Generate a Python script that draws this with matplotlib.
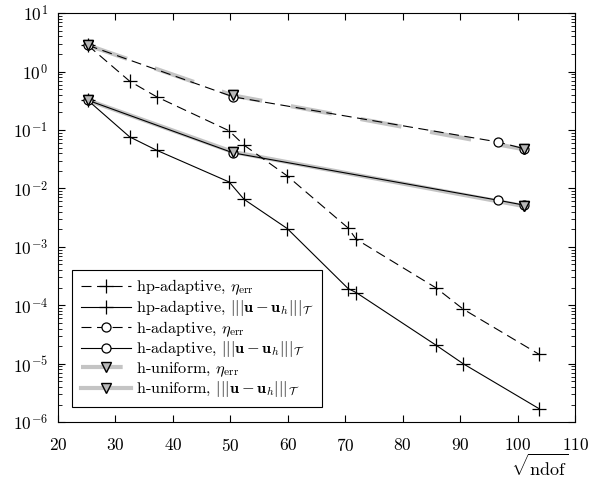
import numpy as np
import matplotlib
matplotlib.use("Agg")
import matplotlib.pyplot as plt

plt.rcParams['font.family'] = 'serif'
plt.rcParams['font.serif'] = ['cmr10', 'DejaVu Serif']
plt.rcParams['mathtext.fontset'] = 'cm'
plt.rcParams['axes.unicode_minus'] = False
plt.rcParams['axes.formatter.use_mathtext'] = True

# sqrt(ndof) and error values
hp_x = [25.2, 32.5, 37.2, 49.8, 52.4, 59.9, 70.5, 71.9, 85.8, 90.5, 103.7]
hp_eta = [2.83, 0.685, 0.37, 0.097, 0.055, 0.0164, 0.0021, 0.00135, 1.98e-4, 8.6e-5, 1.45e-5]
hp_err = [0.324, 0.0762, 0.045, 0.0129, 0.0065, 0.00206, 1.93e-4, 1.65e-4, 2.07e-5, 1.0e-5, 1.7e-6]

h_x = [25.2, 50.5, 96.5, 101.0]
h_eta = [2.83, 0.37, 0.0625, 0.0482]
h_err = [0.324, 0.0406, 0.0063, 0.0052]

hu_x = [25.2, 50.5, 101.0]
hu_eta = [2.83, 0.39, 0.047]
hu_err = [0.324, 0.042, 0.0050]

lab_eta = r'$\eta_{\mathrm{err}}$'
lab_err = r'$|||\mathbf{u}-\mathbf{u}_h|||_{\mathcal{T}}$'

fig = plt.figure(figsize=(5.9, 4.88), dpi=100)
ax = fig.add_axes([0.098, 0.135, 0.877, 0.838])

gray = '#c4c4c4'
tri = dict(marker='v', ms=7.5, mfc='#b8b8b8', mec='black', mew=1.0)

ax.plot(hp_x, hp_eta, color='black', lw=0.8, dashes=(9, 5), marker='+', ms=10, mew=0.9,
        label='hp-adaptive, ' + lab_eta, zorder=3)
ax.plot(hp_x, hp_err, color='black', lw=0.8, marker='+', ms=10, mew=0.9,
        label='hp-adaptive, ' + lab_err, zorder=3)
ax.plot(h_x, h_eta, color='black', lw=0.8, dashes=(9, 5), marker='o', ms=6.5, mfc='white', mew=0.9,
        label='h-adaptive, ' + lab_eta, zorder=3)
ax.plot(h_x, h_err, color='black', lw=0.8, marker='o', ms=6.5, mfc='white', mew=0.9,
        label='h-adaptive, ' + lab_err, zorder=3)
ax.plot(hu_x, hu_eta, color=gray, lw=3, dashes=(10, 7), label='h-uniform, ' + lab_eta, zorder=2, **tri)
ax.plot(hu_x, hu_err, color=gray, lw=3, label='h-uniform, ' + lab_err, zorder=2, **tri)
# triangles sit on top of the circles
ax.plot(hu_x, hu_eta, ls='none', zorder=4, **tri)
ax.plot(hu_x, hu_err, ls='none', zorder=4, **tri)

ax.set_yscale('log')
ax.set_xlim(20, 110)
ax.set_ylim(1e-6, 10)
ax.set_xticks(np.arange(20, 111, 10))
ax.tick_params(which='both', direction='in', top=True, right=True, labelsize=12.5)
ax.tick_params(which='major', length=5, width=0.8)
ax.tick_params(which='minor', length=3, width=0.6)
ax.tick_params(axis='x', pad=11)
ax.tick_params(axis='y', pad=7)
ax.minorticks_on()
ax.xaxis.set_minor_locator(matplotlib.ticker.NullLocator())
for s in ax.spines.values():
    s.set_linewidth(0.8)

ax.set_xlabel(r'$\sqrt{\mathrm{ndof}}$', loc='right', fontsize=13)
ax.xaxis.set_label_coords(0.986, -0.075)

leg = ax.legend(loc='lower left', fontsize=11.7, handlelength=3.1, labelspacing=0.05,
                borderaxespad=0.9, fancybox=False, framealpha=1, edgecolor='black',
                borderpad=0.5, handletextpad=0.3)
leg.get_frame().set_linewidth(0.8)

fig.savefig('out.png', dpi=100)
